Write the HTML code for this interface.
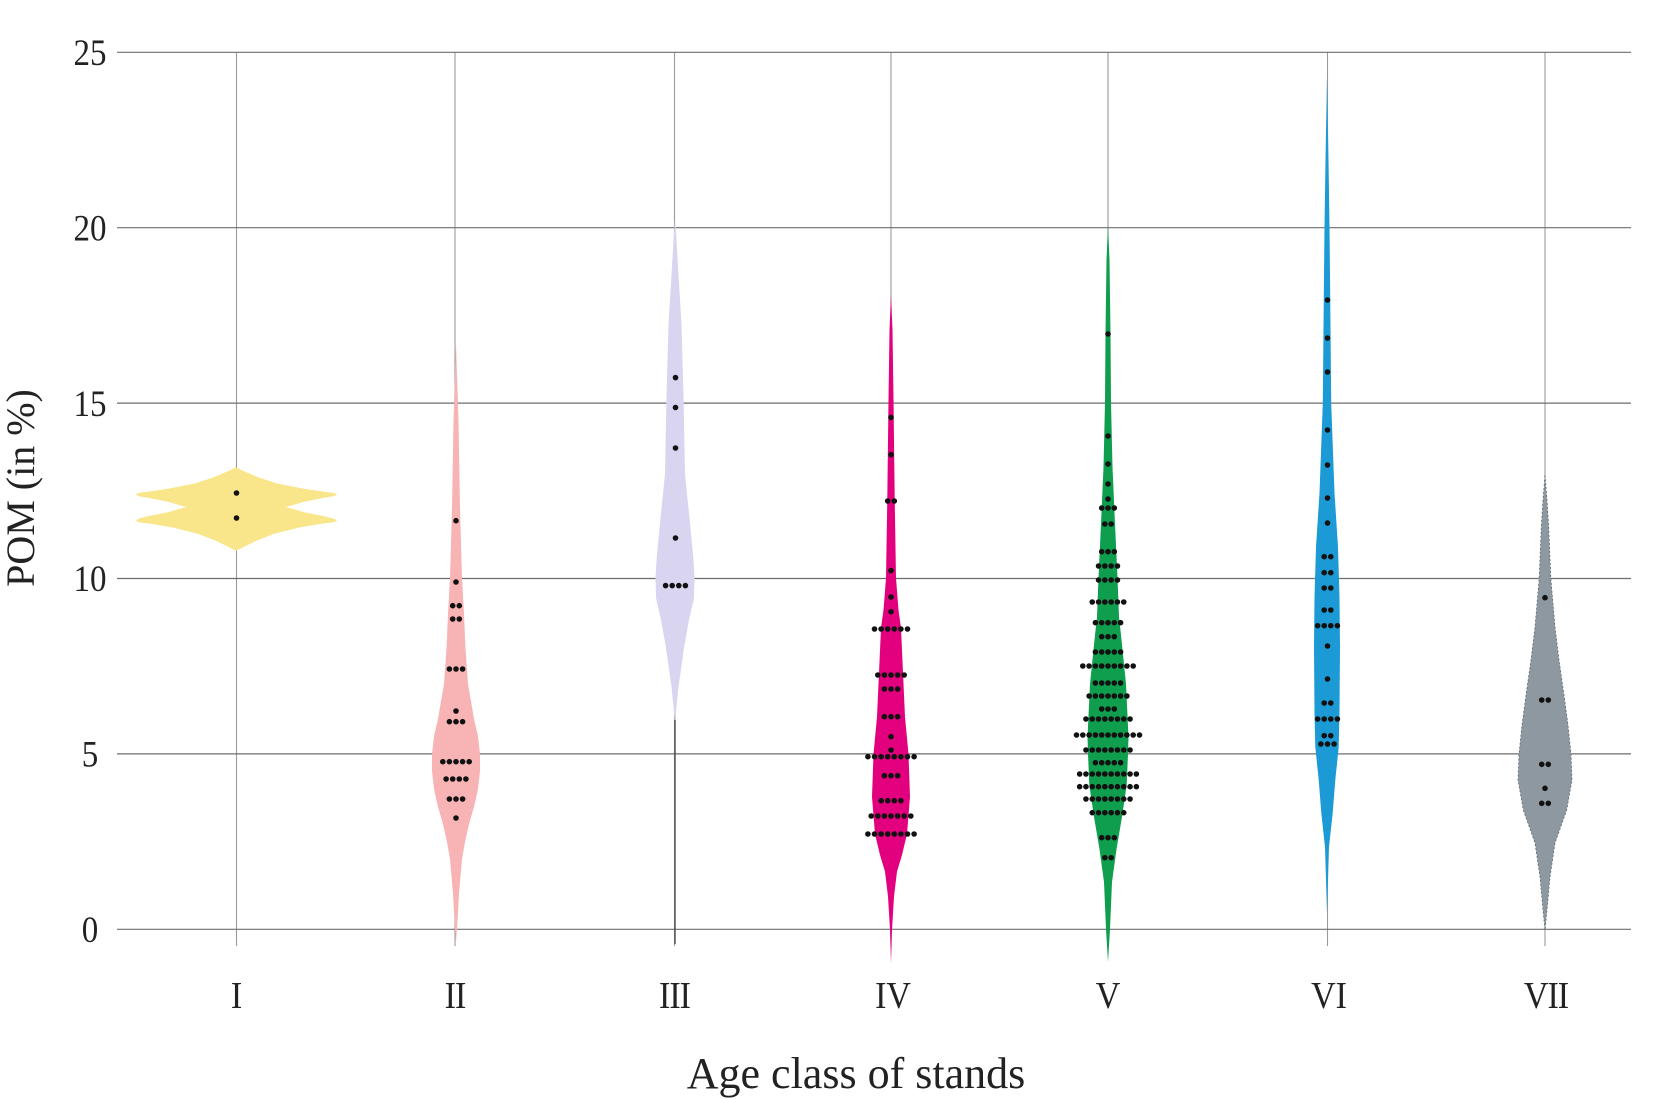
<!DOCTYPE html>
<html>
<head>
<meta charset="utf-8">
<style>
  html,body{margin:0;padding:0;background:#fff;}
  svg{display:block;}
  text{font-family:"Liberation Serif","Times New Roman",serif;fill:#222;}
</style>
</head>
<body>
<svg width="1655" height="1099" viewBox="0 0 1655 1099" xmlns="http://www.w3.org/2000/svg">
  <rect x="0" y="0" width="1655" height="1099" fill="#fff"/>
  <!-- vertical grid lines -->
  <g stroke="#9a9a9a" stroke-width="1.1">
    <line x1="236.5" y1="52" x2="236.5" y2="946"/>
    <line x1="455" y1="52" x2="455" y2="946"/>
    <line x1="674.5" y1="52" x2="674.5" y2="946"/>
    <line x1="891" y1="52" x2="891" y2="946"/>
    <line x1="1108" y1="52" x2="1108" y2="946"/>
    <line x1="1327.5" y1="52" x2="1327.5" y2="946"/>
    <line x1="1545" y1="52" x2="1545" y2="946"/>
  </g>
  <!-- horizontal grid lines -->
  <g stroke="#6e6e6e" stroke-width="1.2">
    <line x1="117" y1="52.3" x2="1631" y2="52.3"/>
    <line x1="117" y1="227.7" x2="1631" y2="227.7"/>
    <line x1="117" y1="403.1" x2="1631" y2="403.1"/>
    <line x1="117" y1="578.5" x2="1631" y2="578.5"/>
    <line x1="117" y1="753.9" x2="1631" y2="753.9"/>
    <line x1="117" y1="929.3" x2="1631" y2="929.3"/>
  </g>

  <!-- Violins -->
  <!-- I -->
  <polygon fill="#f9e58a" stroke="#f9e58a" stroke-width="1.5" stroke-linejoin="round" points="236,468 244,472 258,478 276,484 301,489 321,492 332,493.5 336,494.5 332,495.8 324,497 304,501 283,507 304,513 324,517 332,519 336,520.5 332,521.8 321,523 298,527 274,533 256,540 244,546 236,550 228,546 216,540 198,533 174,527 151,523 140,521.8 137,520.5 140,519 148,517 168,513 189,507 168,501 148,497 140,495.8 137,494.5 140,493.5 151,492 171,489 196,484 214,478 228,472"/>
  <!-- II -->
  <polygon fill="#f8b4b4" points="456,343.5 458.5,420 460,508 461,543 462,578 464,614 465.5,649 468,684 471,701 474,719 478,736 480,754 480,771 478,789 474,807 469,824 465,842 462,859 459,894 457,929 456,942 455,929 453,894 450,859 447,842 443,824 438,807 434,789 432,771 432,754 434,736 438,719 441,701 444,684 446.5,649 448,614 450,578 451,543 452,508 453.5,420"/>
  <!-- III -->
  <line x1="675" y1="700" x2="675" y2="944" stroke="#444" stroke-width="1.3"/>
  <polygon fill="#d9d5f1" points="675,219 676.5,240 678.5,274.6 681.5,324 683.7,404 685,474 690,523 693.5,560 694.5,578 694,598 689,620 684,648 678.5,687 676.5,707 675.5,720 674.5,720 673.5,707 671.5,687 666,648 661,620 656,598 655.5,578 656.5,560 660,523 665,474 666.3,404 668.5,324 671.5,274.6 673.5,240"/>
  <!-- IV -->
  <polygon fill="#e2007e" points="891,294.5 892.5,330 893.5,399 894.7,498.5 896,578 898.5,610 901,628 903,672.6 905,717 908.5,754 910,797 907,834 902,855 897,871.6 894,896.5 892,930 891,963.7 890,930 888,896.5 885,871.6 880,855 875,834 872,797 873.5,754 877,717 879,672.6 881,628 883.5,610 886,578 887.3,498.5 888.5,399 889.5,330"/>
  <!-- V -->
  <polygon fill="#0f9e4e" points="1108,225 1109.5,260 1110.5,333 1111,403 1112.5,467 1114.7,517 1117.5,578 1119,617 1121,635 1126,684 1128.5,737 1128,754 1126.7,785 1122,817 1116.7,848 1112,882 1110,929 1108,962 1106,929 1104,882 1099.3,848 1094,817 1089.3,785 1088,754 1087.5,737 1090,684 1095,635 1097,617 1098.5,578 1101.3,517 1103.5,467 1105,403 1105.5,333 1106.5,260"/>
  <!-- VI -->
  <polygon fill="#1c9ad6" points="1327,76.7 1328.5,160 1329.5,227 1330.5,327 1331.2,403 1334.5,493 1338,547 1339.5,597 1340,647 1339.5,713 1338.7,747 1335.3,780 1332.7,813 1329,847 1328,880 1327,913 1326,880 1325,847 1321.3,813 1318.7,780 1315.3,747 1314.5,713 1314,647 1314.5,597 1316,547 1319.5,493 1322.8,403 1323.5,327 1324.5,227 1325.5,160"/>
  <!-- VII -->
  <polygon fill="#8d98a0" stroke="#5f686e" stroke-width="0.8" stroke-dasharray="2 2" points="1545,475 1547,500 1548.7,527 1550.8,578 1555,627 1559,660 1563.7,693 1568,725 1571,754 1572,780 1566.7,810 1555,843 1550,877 1547,910 1545,930 1543,910 1540,877 1535,843 1523.3,810 1518,780 1519,754 1522,725 1526.3,693 1531,660 1535,627 1539.2,578 1541.3,527 1543,500"/>

  <!-- Dots: single -->
  <g fill="#111">
    <circle cx="236.5" cy="493" r="2.8"/>
    <circle cx="236.5" cy="518" r="2.8"/>
    <!-- II -->
    <circle cx="456" cy="520.7" r="2.8"/>
    <circle cx="456" cy="582" r="2.8"/>
    <circle cx="456" cy="711" r="2.8"/>
    <circle cx="456" cy="818" r="2.8"/>
    <!-- III -->
    <circle cx="675.5" cy="377.6" r="2.8"/>
    <circle cx="675.5" cy="407.5" r="2.8"/>
    <circle cx="675.5" cy="448" r="2.8"/>
    <circle cx="675.5" cy="538" r="2.8"/>
    <!-- IV -->
    <circle cx="891" cy="417.4" r="2.8"/>
    <circle cx="891" cy="454.7" r="2.8"/>
    <circle cx="891" cy="570.6" r="2.8"/>
    <circle cx="891" cy="597" r="2.8"/>
    <circle cx="891" cy="611.7" r="2.8"/>
    <circle cx="891" cy="736.7" r="2.8"/>
    <circle cx="891" cy="750" r="2.8"/>
    <!-- V -->
    <circle cx="1108" cy="334" r="2.8"/>
    <circle cx="1108" cy="436" r="2.8"/>
    <circle cx="1108" cy="464" r="2.8"/>
    <circle cx="1108" cy="484" r="2.8"/>
    <circle cx="1108" cy="499" r="2.8"/>
    <!-- VI -->
    <circle cx="1327.5" cy="300" r="2.8"/>
    <circle cx="1327.5" cy="338" r="2.8"/>
    <circle cx="1327.5" cy="372" r="2.8"/>
    <circle cx="1327.5" cy="430" r="2.8"/>
    <circle cx="1327.5" cy="465" r="2.8"/>
    <circle cx="1327.5" cy="498" r="2.8"/>
    <circle cx="1327.5" cy="523" r="2.8"/>
    <circle cx="1327.5" cy="646" r="2.8"/>
    <circle cx="1327.5" cy="679" r="2.8"/>
    <!-- VII -->
    <circle cx="1545" cy="597.7" r="2.8"/>
    <circle cx="1545" cy="788.3" r="2.8"/>
  </g>

  <!-- Dot rows (dashed round caps), spacing 6.6 -->
  <g stroke="#111" stroke-width="5.6" stroke-linecap="round" stroke-dasharray="0 6.6" fill="none">
    <!-- II -->
    <line x1="452.7" y1="605.7" x2="460.3" y2="605.7"/>
    <line x1="452.7" y1="619" x2="460.3" y2="619"/>
    <line x1="449.4" y1="669" x2="463.6" y2="669"/>
    <line x1="449.4" y1="721.7" x2="463.6" y2="721.7"/>
    <line x1="442.8" y1="761.7" x2="470.2" y2="761.7"/>
    <line x1="446.1" y1="779" x2="466.9" y2="779"/>
    <line x1="449.4" y1="799" x2="463.6" y2="799"/>
    <!-- III -->
    <line x1="665.6" y1="585.6" x2="686.4" y2="585.6"/>
    <!-- IV -->
    <line x1="887.7" y1="501" x2="895.3" y2="501"/>
    <line x1="874.5" y1="629" x2="908.5" y2="629"/>
    <line x1="877.8" y1="675" x2="905.2" y2="675"/>
    <line x1="884.4" y1="689" x2="898.6" y2="689"/>
    <line x1="884.4" y1="716.7" x2="898.6" y2="716.7"/>
    <line x1="867.9" y1="756.7" x2="915.1" y2="756.7"/>
    <line x1="884.4" y1="775.7" x2="898.6" y2="775.7"/>
    <line x1="881.1" y1="800.7" x2="901.9" y2="800.7"/>
    <line x1="871.2" y1="816" x2="911.8" y2="816"/>
    <line x1="867.9" y1="834" x2="915.1" y2="834"/>
    <!-- VI -->
    <line x1="1324.2" y1="556.7" x2="1331.8" y2="556.7"/>
    <line x1="1324.2" y1="572.7" x2="1331.8" y2="572.7"/>
    <line x1="1324.2" y1="588" x2="1331.8" y2="588"/>
    <line x1="1324.2" y1="610" x2="1331.8" y2="610"/>
    <line x1="1317.6" y1="625.7" x2="1338.4" y2="625.7"/>
    <line x1="1324.2" y1="703" x2="1331.8" y2="703"/>
    <line x1="1317.6" y1="719" x2="1338.4" y2="719"/>
    <line x1="1324.2" y1="735.7" x2="1331.8" y2="735.7"/>
    <line x1="1320.9" y1="744" x2="1335.1" y2="744"/>
    <!-- VII -->
    <line x1="1541.7" y1="700" x2="1549.3" y2="700"/>
    <line x1="1541.7" y1="764.3" x2="1549.3" y2="764.3"/>
    <line x1="1541.7" y1="803.3" x2="1549.3" y2="803.3"/>
  </g>

  <!-- V rows spacing 6.3 -->
  <g stroke="#111" stroke-width="5.6" stroke-linecap="round" stroke-dasharray="0 6.3" fill="none">
    <line x1="1101.7" y1="508" x2="1115.3" y2="508"/>
    <line x1="1104.85" y1="524" x2="1112.15" y2="524"/>
    <line x1="1101.7" y1="551.7" x2="1115.3" y2="551.7"/>
    <line x1="1098.55" y1="566" x2="1118.45" y2="566"/>
    <line x1="1098.55" y1="580" x2="1118.45" y2="580"/>
    <line x1="1092.25" y1="602" x2="1124.75" y2="602"/>
    <line x1="1095.4" y1="622.7" x2="1121.6" y2="622.7"/>
    <line x1="1101.7" y1="636.7" x2="1115.3" y2="636.7"/>
    <line x1="1095.4" y1="652" x2="1121.6" y2="652"/>
    <line x1="1082.8" y1="666" x2="1134.2" y2="666"/>
    <line x1="1095.4" y1="683" x2="1121.6" y2="683"/>
    <line x1="1089.1" y1="696" x2="1127.9" y2="696"/>
    <line x1="1101.7" y1="709" x2="1115.3" y2="709"/>
    <line x1="1085.95" y1="719" x2="1131.05" y2="719"/>
    <line x1="1076.5" y1="735" x2="1140.5" y2="735"/>
    <line x1="1085.95" y1="750" x2="1131.05" y2="750"/>
    <line x1="1095.4" y1="762.7" x2="1121.6" y2="762.7"/>
    <line x1="1079.65" y1="774" x2="1137.35" y2="774"/>
    <line x1="1079.65" y1="786.7" x2="1137.35" y2="786.7"/>
    <line x1="1085.95" y1="799" x2="1131.05" y2="799"/>
    <line x1="1092.25" y1="812.7" x2="1124.75" y2="812.7"/>
    <line x1="1101.7" y1="837.7" x2="1115.3" y2="837.7"/>
    <line x1="1104.85" y1="857.7" x2="1112.15" y2="857.7"/>
  </g>

  <!-- Y tick labels -->
  <g font-size="33" text-anchor="middle">
    <text transform="translate(90,65) scale(1,1.12)">25</text>
    <text transform="translate(90,240.4) scale(1,1.12)">20</text>
    <text transform="translate(90,415.8) scale(1,1.12)">15</text>
    <text transform="translate(90,591.2) scale(1,1.12)">10</text>
    <text transform="translate(90,766.6) scale(1,1.12)">5</text>
    <text transform="translate(90,942) scale(1,1.12)">0</text>
  </g>

  <!-- X tick labels -->
  <g font-size="34" text-anchor="middle">
    <text transform="translate(236.5,1008) scale(1,1.11)">I</text>
    <text transform="translate(455,1008) scale(1,1.11)" letter-spacing="-1">II</text>
    <text transform="translate(674.5,1008) scale(1,1.11)" letter-spacing="-1">III</text>
    <text transform="translate(893,1008) scale(1,1.11)">IV</text>
    <text transform="translate(1108,1008) scale(1,1.11)">V</text>
    <text transform="translate(1329,1008) scale(1,1.11)">VI</text>
    <text transform="translate(1546,1008) scale(1,1.11)" letter-spacing="-1">VII</text>
  </g>

  <!-- Axis titles -->
  <text transform="translate(34,488) rotate(-90)" font-size="40" text-anchor="middle">POM (in %)</text>
  <text x="856" y="1088" font-size="44" text-anchor="middle">Age class of stands</text>
</svg>
</body>
</html>
